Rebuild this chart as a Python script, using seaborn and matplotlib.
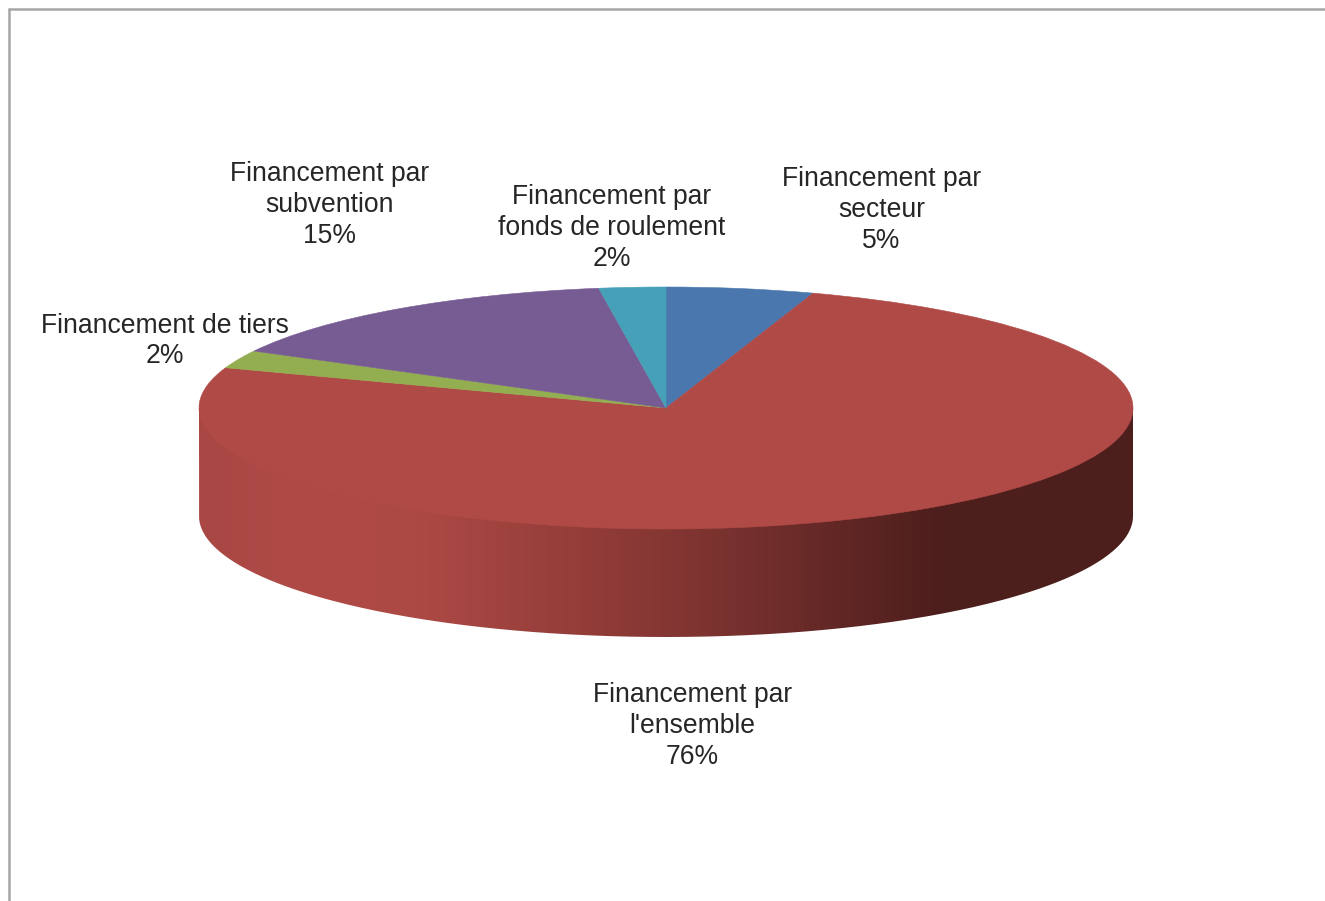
"""3D-looking pie chart of financing sources, squashed pie plus a shaded side wall."""
import textwrap
import numpy as np
import seaborn as sns
import matplotlib.pyplot as plt
from matplotlib.colors import LinearSegmentedColormap
from matplotlib.lines import Line2D
from matplotlib.patches import PathPatch
from matplotlib.path import Path

# ── Data ─────────────────────────────────────────────────────────────────
categories = [
    "Financement par secteur",
    "Financement par l'ensemble",
    "Financement de tiers",
    "Financement par subvention",
    "Financement par fonds de roulement",
]
shares = [5.1, 75.3, 2.4, 14.9, 2.3]
percent_labels = ["5%", "76%", "2%", "15%", "2%"]

# ── Style ────────────────────────────────────────────────────────────────
W, H = 1325, 901
sns.set_theme(style="white")
plt.rcParams["font.family"] = ["Liberation Sans", "DejaVu Sans"]

palette = sns.color_palette(["#4A78AE", "#B04A46", "#93AE50", "#775C93", "#46A0B8"])
side_cmap = LinearSegmentedColormap.from_list("side", [
    (0.00, "#A84744"), (0.10, "#B04A46"), (0.23, "#AD4945"), (0.42, "#923C38"),
    (0.55, "#7C3330"), (0.70, "#5F2624"), (0.80, "#4C1E1C"), (1.00, "#4C1E1C"),
])
text_color = "#262626"
frame_color = "#A6A6A6"

# pixel box of the pie: ellipse top and rim, and wall height
pie_left, pie_right = 199, 1133
pie_top, pie_bottom = 287, 529
wall_px = 108

# centre of each label in pixels, same order as categories
label_xy = [(881.5, 210), (692.5, 726), (164.5, 341), (329.5, 205), (611.5, 228)]

fig = plt.figure(figsize=(W / 100, H / 100), dpi=100, facecolor="white")
ax = fig.add_axes([
    pie_left / W,
    1 - (pie_bottom + wall_px) / H,
    (pie_right - pie_left) / W,
    (pie_bottom + wall_px - pie_top) / H,
])
depth = wall_px / ((pie_bottom - pie_top) / 2)

# ── Side wall ────────────────────────────────────────────────────────────
theta = np.linspace(np.pi, 2 * np.pi, 300)
wall_xy = np.vstack([
    [[-1, 0]],
    np.column_stack([np.cos(theta), np.sin(theta) - depth]),
    [[1, 0]],
    [[-1, 0]],
])
gradient = np.linspace(0, 1, 934).reshape(1, -1)
img = ax.imshow(gradient, cmap=side_cmap, extent=[-1, 1, -1 - depth, 0],
                aspect="auto", zorder=1)
clip = PathPatch(Path(wall_xy), transform=ax.transData, facecolor="none", edgecolor="none")
ax.add_patch(clip)
img.set_clip_path(clip)

# ── Top face ─────────────────────────────────────────────────────────────
wedges, _ = ax.pie(shares, colors=palette, startangle=90, counterclock=False, radius=1)
for w in wedges:
    w.set_zorder(2)
    w.set_edgecolor(w.get_facecolor())
    w.set_linewidth(0.4)

ax.set_aspect("auto")
ax.set_xlim(-1, 1)
ax.set_ylim(-1 - depth, 1)
ax.axis("off")

# ── Labels ───────────────────────────────────────────────────────────────
for cat, pct, (x, y) in zip(categories, percent_labels, label_xy):
    fig.text(x / W, 1 - y / H, f"{textwrap.fill(cat, 20)}\n{pct}",
             ha="center", va="center", multialignment="center",
             fontsize=19.1, color=text_color, linespacing=1.23)

# ── Chart-area border (top and left only are visible in the crop) ────────
fig.add_artist(Line2D([9 / W, 1], [1 - 9 / H] * 2, color=frame_color, lw=1.8))
fig.add_artist(Line2D([9 / W] * 2, [0, 1 - 9 / H], color=frame_color, lw=1.8))

fig.savefig("out.png", dpi=100, facecolor="white")
plt.close(fig)
